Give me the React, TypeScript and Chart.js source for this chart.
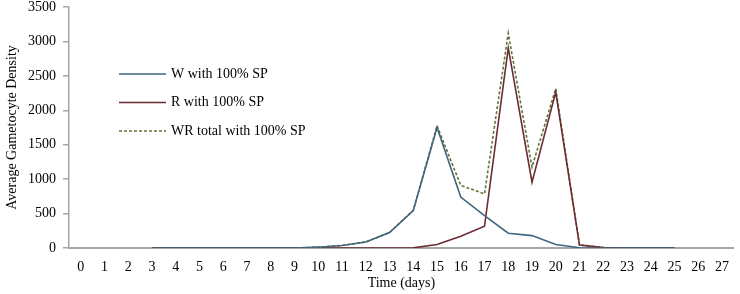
import React, { useEffect, useRef } from "react";
import { Chart, registerables } from "chart.js";

Chart.register(...registerables);

const days: string[] = [
  "0", "1", "2", "3", "4", "5", "6", "7", "8", "9", "10", "11", "12", "13",
  "14", "15", "16", "17", "18", "19", "20", "21", "22", "23", "24", "25", "26", "27",
];

const wValues: (number | null)[] = [
  null, null, null, 0, 0, 0, 0, 0, 0, 0, 12, 36, 88, 225,
  545, 1750, 740, 470, 215, 180, 52, 4, 0, 0, 0, 0, null, null,
];

const rValues: (number | null)[] = [
  null, null, null, 0, 0, 0, 0, 0, 0, 0, 0, 0, 0, 0,
  3, 50, 170, 315, 2905, 955, 2265, 42, 6, 0, 0, 0, null, null,
];

const wrValues: (number | null)[] = [
  null, null, null, 0, 0, 0, 0, 0, 0, 0, 12, 36, 88, 225,
  548, 1775, 910, 785, 3120, 1175, 2315, 46, 6, 0, 0, 0, null, null,
];

const seriesNames: string[] = [
  "W with 100% SP",
  "R with 100% SP",
  "WR total with 100% SP",
];

const yTicks: number[] = [0, 500, 1000, 1500, 2000, 2500, 3000, 3500];

const FONT = "'Liberation Serif', 'Times New Roman', serif";

const legendPlugin = {
  id: "customLegend",
  afterDraw(chart: any) {
    const ctx = chart.ctx;
    ctx.save();
    const x0 = 119;
    const x1 = 166;
    const ys = [74, 102.5, 131];
    chart.data.datasets.forEach((ds: any, i: number) => {
      const y = ys[i];
      ctx.beginPath();
      ctx.strokeStyle = ds.borderColor;
      ctx.lineWidth = ds.borderWidth;
      ctx.setLineDash(ds.borderDash || []);
      ctx.moveTo(x0, y);
      ctx.lineTo(x1, y);
      ctx.stroke();
      ctx.setLineDash([]);
      ctx.fillStyle = "#000";
      ctx.font = `14px ${FONT}`;
      ctx.textBaseline = "middle";
      ctx.textAlign = "left";
      ctx.fillText(ds.label, 171, y);
    });
    ctx.restore();
  },
};

export default function App() {
  const canvasRef = useRef<HTMLCanvasElement | null>(null);

  useEffect(() => {
    document.body.style.margin = "0";
    const canvas = canvasRef.current;
    if (!canvas) return;
    const chart = new Chart(canvas, {
      type: "line",
      data: {
        labels: days,
        datasets: [
          {
            label: seriesNames[0],
            data: wValues,
            borderColor: "#41657b",
            borderWidth: 1.6,
            pointRadius: 0,
            tension: 0,
          },
          {
            label: seriesNames[1],
            data: rValues,
            borderColor: "#6b2b30",
            borderWidth: 1.6,
            pointRadius: 0,
            tension: 0,
          },
          {
            label: seriesNames[2],
            data: wrValues,
            borderColor: "#62733a",
            borderWidth: 1.6,
            borderDash: [3, 2],
            pointRadius: 0,
            tension: 0,
          },
        ],
      },
      options: {
        animation: false,
        responsive: true,
        maintainAspectRatio: false,
        layout: { padding: { top: 7, right: 3, left: 0, bottom: 0 } },
        plugins: {
          legend: { display: false },
          tooltip: { enabled: false },
        },
        scales: {
          x: {
            type: "category",
            offset: true,
            grid: { display: false, drawTicks: false },
            border: { display: true, color: "#a6a6a6", width: 2 },
            ticks: {
              color: "#000",
              font: { family: FONT, size: 14 },
              padding: 11,
              maxRotation: 0,
              autoSkip: false,
            },
            title: {
              display: true,
              text: "Time (days)",
              color: "#000",
              font: { family: FONT, size: 14 },
              padding: { top: 0, bottom: 2 },
            },
            afterFit(scale: any) {
              scale.height = 46;
            },
          },
          y: {
            min: 0,
            max: 3500,
            afterBuildTicks(scale: any) {
              scale.ticks = yTicks.map((v) => ({ value: v }));
            },
            grid: {
              display: true,
              drawOnChartArea: false,
              drawTicks: true,
              tickLength: 6,
              color: "#a6a6a6",
              lineWidth: 1.5,
            },
            border: { display: true, color: "#a6a6a6", width: 1.5 },
            ticks: {
              color: "#000",
              font: { family: FONT, size: 14 },
              padding: 7,
              callback: (v: any) => String(v),
            },
            title: {
              display: true,
              text: "Average Gametocyte Density",
              color: "#000",
              font: { family: FONT, size: 14 },
              padding: { top: 4, bottom: 0 },
            },
            afterFit(scale: any) {
              scale.width = 69;
              scale.paddingTop = 0;
              scale.paddingBottom = 0;
            },
          },
        },
      },
      plugins: [legendPlugin],
    });
    return () => chart.destroy();
  }, []);

  return (
    <div style={{ width: 740, height: 294, position: "relative", background: "#fff" }}>
      <canvas ref={canvasRef} />
    </div>
  );
}
